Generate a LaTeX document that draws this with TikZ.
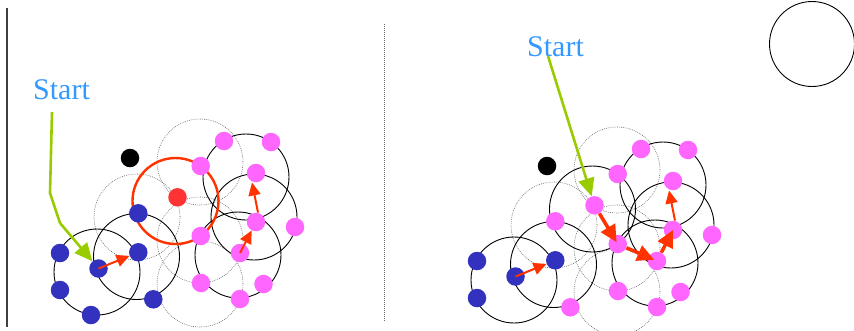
\documentclass[tikz,border=0pt]{standalone}
\usepackage{fontspec}
\setmainfont{Liberation Serif}
\usetikzlibrary{arrows.meta}

\definecolor{startblue}{RGB}{51,153,255}
\definecolor{hintgreen}{RGB}{153,204,0}
\definecolor{movered}{RGB}{255,51,0}
\definecolor{dotblue}{RGB}{50,50,190}
\definecolor{dotpink}{RGB}{255,102,255}
\definecolor{dotred}{RGB}{255,51,51}

\tikzset{
	bdot/.style={circle, fill=dotblue, minimum size=18.5pt, inner sep=0pt},
	pdot/.style={circle, fill=dotpink, minimum size=18.5pt, inner sep=0pt},
	rdot/.style={circle, fill=dotred, minimum size=18.5pt, inner sep=0pt},
	kdot/.style={circle, fill=black, minimum size=18.5pt, inner sep=0pt},
	reachring/.style={black, line width=0.9pt},
	nbrring/.style={black!60, line width=0.6pt, dash pattern=on 0.8pt off 1.1pt},
	chosenring/.style={movered, line width=2.4pt},
	movearrow/.style={movered, line width=2pt, -{Triangle[length=13pt, width=12pt]}},
	bigmovearrow/.style={movered, line width=3.5pt, -{Triangle[length=17pt, width=16pt]}},
	hintarrow/.style={hintgreen, line width=2.6pt, -{Triangle[length=18pt, width=16pt]}},
	starttext/.style={anchor=base west, inner sep=0pt, text=startblue, font=\fontsize{30}{36}\selectfont}
}

\begin{document}
\begin{tikzpicture}[x=1pt, y=-1pt]
	\useasboundingbox (0,0) rectangle (854,330);

	\draw[darkgray, line width=1.2pt] (7,8) -- (7,327);
	\draw[black!60, line width=0.9pt, dash pattern=on 1pt off 1pt] (384,24) -- (384,322);
	\draw[reachring] (812,44) circle[radius=42.5pt];

	% left: first search
	\draw[nbrring] (200,162) circle[radius=43pt];
	\draw[nbrring] (137,217) circle[radius=43pt];
	\draw[nbrring] (200,240) circle[radius=43pt];
	\draw[nbrring] (200,284) circle[radius=43pt];
	\draw[reachring] (97,272) circle[radius=43pt];
	\draw[reachring] (136.5,256.5) circle[radius=43pt];
	\draw[reachring] (246,177) circle[radius=43pt];
	\draw[reachring] (254,217) circle[radius=43pt];
	\draw[reachring] (238,255) circle[radius=43pt];
	\draw[chosenring] (175.5,201) circle[radius=43pt];

	\node[kdot] (lk) at (130,158) {};
	\node[bdot] (lb1) at (60,253) {};
	\node[bdot] (lb2) at (60,290) {};
	\node[bdot] (lb3) at (91,315) {};
	\node[bdot] (lb4) at (98.5,268.5) {};
	\node[bdot] (lb5) at (138.3,252.3) {};
	\node[bdot] (lb6) at (138.3,213.3) {};
	\node[bdot] (lb7) at (153.3,299.3) {};
	\node[rdot] (lc) at (177.5,197.3) {};
	\node[pdot] (lp1) at (224,141) {};
	\node[pdot] (lp2) at (271,142) {};
	\node[pdot] (lp3) at (200.7,166) {};
	\node[pdot] (lp4) at (256,173) {};
	\node[pdot] (lp5) at (295,227) {};
	\node[pdot] (lp6) at (256,222) {};
	\node[pdot] (lp7) at (200.7,236) {};
	\node[pdot] (lp8) at (240,253) {};
	\node[pdot] (lp9) at (201,283) {};
	\node[pdot] (lp10) at (263.5,284) {};
	\node[pdot] (lp11) at (240,299) {};

	\draw[movearrow] (lb4.center) -- (lb5);
	\draw[movearrow] (lp8.center) -- (lp6);
	\draw[movearrow] ([xshift=2pt]lp6.north) -- ([xshift=-4pt]lp4.south);

	\node[starttext] (lstart) at (33,99) {Start};
	\coordinate (lg0) at (52,112);
	\draw[hintarrow] (lg0) -- (50,193) -- (60,223) -- (lb4);

	% right: second search
	\begin{scope}[shift={(417,8)}]
		\draw[nbrring] (200,162) circle[radius=43pt];
		\draw[nbrring] (137,217) circle[radius=43pt];
		\draw[nbrring] (200,240) circle[radius=43pt];
		\draw[nbrring] (200,284) circle[radius=43pt];
		\draw[reachring] (97,272) circle[radius=43pt];
		\draw[reachring] (136.5,256.5) circle[radius=43pt];
		\draw[reachring] (246,177) circle[radius=43pt];
		\draw[reachring] (254,217) circle[radius=43pt];
		\draw[reachring] (238,255) circle[radius=43pt];
		\draw[reachring] (175.5,201) circle[radius=43pt];

		\node[kdot] (rk) at (130,158) {};
		\node[bdot] (rb1) at (60,253) {};
		\node[bdot] (rb2) at (60,290) {};
		\node[bdot] (rb4) at (98.5,268.5) {};
		\node[bdot] (rb5) at (138.3,252.3) {};
		\node[pdot] (rp12) at (138.3,213.3) {};
		\node[pdot] (rp13) at (153.3,299.3) {};
		\node[pdot] (rc) at (177.5,197.3) {};
		\node[pdot] (rp1) at (224,141) {};
		\node[pdot] (rp2) at (271,142) {};
		\node[pdot] (rp3) at (200.7,166) {};
		\node[pdot] (rp4) at (256,173) {};
		\node[pdot] (rp5) at (295,227) {};
		\node[pdot] (rp6) at (256,222) {};
		\node[pdot] (rp7) at (200.7,236) {};
		\node[pdot] (rp8) at (240,253) {};
		\node[pdot] (rp9) at (201,283) {};
		\node[pdot] (rp10) at (263.5,284) {};
		\node[pdot] (rp11) at (240,299) {};

		\draw[movearrow] (rb4.center) -- (rb5);
		\draw[bigmovearrow, shorten >=2pt] (rc) -- (rp7.center);
		\draw[bigmovearrow, shorten >=3pt] (rp7) -- (rp8.center);
		\draw[bigmovearrow] (rp8) -- (rp6.center);
		\draw[movearrow] ([xshift=2pt]rp6.north) -- ([xshift=-4pt]rp4.south);

		\node[starttext] (rstart) at (110,48) {Start};
		\coordinate (rg0) at (131,48);
		\draw[hintarrow] (rg0) -- (rc);
	\end{scope}
\end{tikzpicture}
\end{document}
